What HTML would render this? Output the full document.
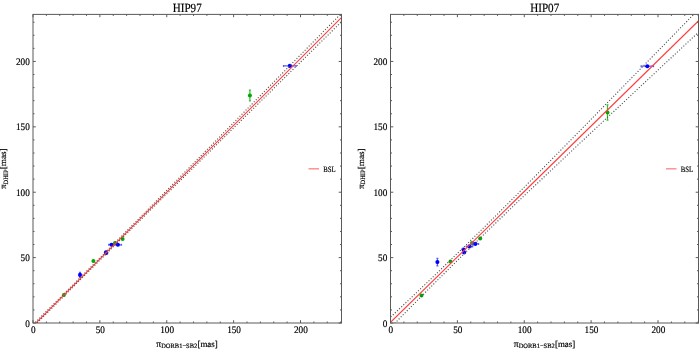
<!DOCTYPE html><html><head><meta charset="utf-8"><style>html,body{margin:0;padding:0;background:#fff;}svg{display:block;will-change:transform;text-rendering:geometricPrecision}text{font-family:"Liberation Serif",serif;fill:#000;stroke:#000;stroke-width:0.18px}</style></head><body>
<svg width="699" height="349" viewBox="0 0 699 349">
<rect width="699" height="349" fill="#fff"/>
<defs><clipPath id="c0"><rect x="33.00" y="14.40" width="308.50" height="308.60"/></clipPath></defs>
<g clip-path="url(#c0)">
<circle cx="63.90" cy="295.10" r="2.0" fill="#00aa00"/>
<path d="M80.00 272.40V277.40M79.00 272.40H81.00M79.00 277.40H81.00" stroke="#5c5cff" stroke-width="1.2" fill="none"/>
<circle cx="80.00" cy="274.90" r="2.05" fill="#0000ff"/>
<circle cx="93.40" cy="261.00" r="2.0" fill="#00aa00"/>
<circle cx="106.00" cy="252.20" r="2.05" fill="#0000ff"/>
<circle cx="106.30" cy="252.90" r="2.05" fill="#0000ff"/>
<path d="M108.70 244.70H114.30M108.70 243.70V245.70M114.30 243.70V245.70" stroke="#5c5cff" stroke-width="1.2" fill="none"/>
<circle cx="111.50" cy="244.70" r="2.05" fill="#0000ff"/>
<circle cx="115.00" cy="243.00" r="2.0" fill="#00aa00"/>
<path d="M114.30 244.80H121.50M114.30 243.80V245.80M121.50 243.80V245.80" stroke="#5c5cff" stroke-width="1.2" fill="none"/>
<circle cx="117.90" cy="244.80" r="2.05" fill="#0000ff"/>
<circle cx="122.60" cy="238.90" r="2.0" fill="#00aa00"/>
<path d="M249.90 90.20V100.80M248.90 90.20H250.90M248.90 100.80H250.90" stroke="#30c030" stroke-width="1.2" fill="none"/>
<circle cx="249.90" cy="95.50" r="2.0" fill="#00aa00"/>
<path d="M283.50 65.90H296.10M283.50 64.90V66.90M296.10 64.90V66.90" stroke="#5c5cff" stroke-width="1.2" fill="none"/>
<circle cx="289.80" cy="65.90" r="2.05" fill="#0000ff"/>
<polyline points="29.00,328.52 33.00,324.55 37.00,320.59 41.00,316.63 45.00,312.66 49.00,308.69 53.00,304.72 57.00,300.74 61.00,296.76 65.00,292.78 69.00,288.79 73.00,284.81 77.00,280.81 81.00,276.82 85.00,272.82 89.00,268.81 93.00,264.81 97.00,260.80 101.00,256.78 105.00,252.76 109.00,248.74 113.00,244.72 117.00,240.69 121.00,236.67 125.00,232.63 129.00,228.60 133.00,224.57 137.00,220.53 141.00,216.49 145.00,212.45 149.00,208.41 153.00,204.36 157.00,200.32 161.00,196.27 165.00,192.22 169.00,188.18 173.00,184.13 177.00,180.08 181.00,176.03 185.00,171.98 189.00,167.92 193.00,163.87 197.00,159.82 201.00,155.76 205.00,151.71 209.00,147.66 213.00,143.60 217.00,139.55 221.00,135.49 225.00,131.43 229.00,127.38 233.00,123.32 237.00,119.27 241.00,115.21 245.00,111.15 249.00,107.09 253.00,103.04 257.00,98.98 261.00,94.92 265.00,90.86 269.00,86.80 273.00,82.75 277.00,78.69 281.00,74.63 285.00,70.57 289.00,66.51 293.00,62.45 297.00,58.39 301.00,54.33 305.00,50.27 309.00,46.21 313.00,42.15 317.00,38.10 321.00,34.04 325.00,29.98 329.00,25.92 333.00,21.86 337.00,17.80 341.00,13.74 345.00,9.68" stroke="#505050" stroke-width="1.1" fill="none" stroke-dasharray="1.1 1.8"/>
<polyline points="29.00,331.28 33.00,327.24 37.00,323.21 41.00,319.17 45.00,315.14 49.00,311.12 53.00,307.09 57.00,303.07 61.00,299.05 65.00,295.04 69.00,291.02 73.00,287.01 77.00,283.01 81.00,279.01 85.00,275.01 89.00,271.02 93.00,267.03 97.00,263.04 101.00,259.05 105.00,255.07 109.00,251.10 113.00,247.12 117.00,243.15 121.00,239.18 125.00,235.22 129.00,231.25 133.00,227.29 137.00,223.33 141.00,219.37 145.00,215.41 149.00,211.46 153.00,207.51 157.00,203.55 161.00,199.60 165.00,195.65 169.00,191.70 173.00,187.75 177.00,183.81 181.00,179.86 185.00,175.91 189.00,171.97 193.00,168.02 197.00,164.08 201.00,160.13 205.00,156.19 209.00,152.25 213.00,148.30 217.00,144.36 221.00,140.42 225.00,136.48 229.00,132.53 233.00,128.59 237.00,124.65 241.00,120.71 245.00,116.77 249.00,112.83 253.00,108.89 257.00,104.95 261.00,101.01 265.00,97.07 269.00,93.13 273.00,89.19 277.00,85.25 281.00,81.32 285.00,77.38 289.00,73.44 293.00,69.50 297.00,65.56 301.00,61.62 305.00,57.69 309.00,53.75 313.00,49.81 317.00,45.87 321.00,41.93 325.00,38.00 329.00,34.06 333.00,30.12 337.00,26.18 341.00,22.25 345.00,18.31" stroke="#505050" stroke-width="1.1" fill="none" stroke-dasharray="1.1 1.8"/>
<line x1="31.00" y1="327.90" x2="343.50" y2="15.49" stroke="#ff3c3c" stroke-width="1.1" fill="none"/>
</g>
<rect x="33.00" y="14.40" width="308.50" height="308.60" fill="none" stroke="#5a5a5a" stroke-width="1"/>
<path d="M33.00 323.00v-2.8M33.00 14.40v2.8M46.38 323.00v-1.5M46.38 14.40v1.5M59.75 323.00v-1.5M59.75 14.40v1.5M73.12 323.00v-1.5M73.12 14.40v1.5M86.50 323.00v-1.5M86.50 14.40v1.5M99.88 323.00v-2.8M99.88 14.40v2.8M113.25 323.00v-1.5M113.25 14.40v1.5M126.62 323.00v-1.5M126.62 14.40v1.5M140.00 323.00v-1.5M140.00 14.40v1.5M153.38 323.00v-1.5M153.38 14.40v1.5M166.75 323.00v-2.8M166.75 14.40v2.8M180.12 323.00v-1.5M180.12 14.40v1.5M193.50 323.00v-1.5M193.50 14.40v1.5M206.88 323.00v-1.5M206.88 14.40v1.5M220.25 323.00v-1.5M220.25 14.40v1.5M233.62 323.00v-2.8M233.62 14.40v2.8M247.00 323.00v-1.5M247.00 14.40v1.5M260.38 323.00v-1.5M260.38 14.40v1.5M273.75 323.00v-1.5M273.75 14.40v1.5M287.12 323.00v-1.5M287.12 14.40v1.5M300.50 323.00v-2.8M300.50 14.40v2.8M313.88 323.00v-1.5M313.88 14.40v1.5M327.25 323.00v-1.5M327.25 14.40v1.5M340.62 323.00v-1.5M340.62 14.40v1.5M33.00 323.00h2.8M341.50 323.00h-2.8M33.00 309.92h1.5M341.50 309.92h-1.5M33.00 296.84h1.5M341.50 296.84h-1.5M33.00 283.77h1.5M341.50 283.77h-1.5M33.00 270.69h1.5M341.50 270.69h-1.5M33.00 257.61h2.8M341.50 257.61h-2.8M33.00 244.53h1.5M341.50 244.53h-1.5M33.00 231.45h1.5M341.50 231.45h-1.5M33.00 218.38h1.5M341.50 218.38h-1.5M33.00 205.30h1.5M341.50 205.30h-1.5M33.00 192.22h2.8M341.50 192.22h-2.8M33.00 179.14h1.5M341.50 179.14h-1.5M33.00 166.06h1.5M341.50 166.06h-1.5M33.00 152.99h1.5M341.50 152.99h-1.5M33.00 139.91h1.5M341.50 139.91h-1.5M33.00 126.83h2.8M341.50 126.83h-2.8M33.00 113.75h1.5M341.50 113.75h-1.5M33.00 100.67h1.5M341.50 100.67h-1.5M33.00 87.60h1.5M341.50 87.60h-1.5M33.00 74.52h1.5M341.50 74.52h-1.5M33.00 61.44h2.8M341.50 61.44h-2.8M33.00 48.36h1.5M341.50 48.36h-1.5M33.00 35.28h1.5M341.50 35.28h-1.5M33.00 22.21h1.5M341.50 22.21h-1.5" stroke="#5a5a5a" stroke-width="1" fill="none"/>
<text x="33.40" y="332.6" font-size="10" text-anchor="middle" textLength="4.6" lengthAdjust="spacingAndGlyphs">0</text>
<text x="29.80" y="326.50" font-size="10" text-anchor="end" textLength="4.6" lengthAdjust="spacingAndGlyphs">0</text>
<text x="100.28" y="332.6" font-size="10" text-anchor="middle" textLength="9.2" lengthAdjust="spacingAndGlyphs">50</text>
<text x="29.80" y="261.11" font-size="10" text-anchor="end" textLength="9.2" lengthAdjust="spacingAndGlyphs">50</text>
<text x="167.15" y="332.6" font-size="10" text-anchor="middle" textLength="13.8" lengthAdjust="spacingAndGlyphs">100</text>
<text x="29.80" y="195.72" font-size="10" text-anchor="end" textLength="13.8" lengthAdjust="spacingAndGlyphs">100</text>
<text x="234.03" y="332.6" font-size="10" text-anchor="middle" textLength="13.8" lengthAdjust="spacingAndGlyphs">150</text>
<text x="29.80" y="130.33" font-size="10" text-anchor="end" textLength="13.8" lengthAdjust="spacingAndGlyphs">150</text>
<text x="300.90" y="332.6" font-size="10" text-anchor="middle" textLength="13.8" lengthAdjust="spacingAndGlyphs">200</text>
<text x="29.80" y="64.94" font-size="10" text-anchor="end" textLength="13.8" lengthAdjust="spacingAndGlyphs">200</text>
<text x="187.25" y="12.0" font-size="12.5" stroke="#000" stroke-width="0.25" text-anchor="middle" textLength="28.9" lengthAdjust="spacingAndGlyphs">HIP97</text>
<text x="156.20" y="347.2" font-size="9.6">π</text>
<text x="161.20" y="348.3" font-size="6.6" textLength="36.0" lengthAdjust="spacingAndGlyphs">DORB1−SB2</text>
<text x="197.50" y="347.3" font-size="8.9" textLength="20.2" lengthAdjust="spacingAndGlyphs">[mas]</text>
<g transform="translate(6.40,188.7) rotate(-90)"><text x="-0.2" y="0" font-size="9">π</text><text x="4.2" y="1.4" font-size="6.5" textLength="15.0" lengthAdjust="spacingAndGlyphs">DHIP</text><text x="19.4" y="0" font-size="8.8" textLength="21.0" lengthAdjust="spacingAndGlyphs">[mas]</text></g>
<line x1="308.50" y1="168.8" x2="319.00" y2="168.8" stroke="#ff8a8a" stroke-width="1.4"/>
<text x="323.20" y="171.9" font-size="8.2" textLength="12.4" lengthAdjust="spacingAndGlyphs">BSL</text>
<defs><clipPath id="c1"><rect x="390.50" y="14.40" width="308.00" height="308.60"/></clipPath></defs>
<g clip-path="url(#c1)">
<circle cx="421.50" cy="295.60" r="2.0" fill="#00aa00"/>
<path d="M437.40 258.40V265.80M436.40 258.40H438.40M436.40 265.80H438.40" stroke="#5c5cff" stroke-width="1.2" fill="none"/>
<circle cx="437.40" cy="262.10" r="2.05" fill="#0000ff"/>
<circle cx="450.50" cy="261.50" r="2.0" fill="#00aa00"/>
<circle cx="463.50" cy="249.60" r="2.05" fill="#0000ff"/>
<circle cx="464.10" cy="252.50" r="2.05" fill="#0000ff"/>
<path d="M466.30 246.40H472.70M466.30 245.40V247.40M472.70 245.40V247.40" stroke="#5c5cff" stroke-width="1.2" fill="none"/>
<circle cx="469.50" cy="246.40" r="2.05" fill="#0000ff"/>
<circle cx="472.00" cy="242.90" r="2.0" fill="#00aa00"/>
<path d="M472.00 243.90H478.60M472.00 242.90V244.90M478.60 242.90V244.90" stroke="#5c5cff" stroke-width="1.2" fill="none"/>
<circle cx="475.30" cy="243.90" r="2.05" fill="#0000ff"/>
<circle cx="480.20" cy="238.50" r="2.0" fill="#00aa00"/>
<path d="M607.50 104.80V120.20M606.50 104.80H608.50M606.50 120.20H608.50" stroke="#30c030" stroke-width="1.2" fill="none"/>
<circle cx="607.50" cy="112.50" r="2.0" fill="#00aa00"/>
<path d="M641.10 66.20H653.50M641.10 65.20V67.20M653.50 65.20V67.20" stroke="#5c5cff" stroke-width="1.2" fill="none"/>
<circle cx="647.30" cy="66.20" r="2.05" fill="#0000ff"/>
<polyline points="386.50,320.95 390.50,317.18 394.50,313.40 398.50,309.63 402.50,305.85 406.50,302.06 410.50,298.27 414.50,294.48 418.50,290.68 422.50,286.87 426.50,283.06 430.50,279.25 434.50,275.42 438.50,271.59 442.50,267.75 446.50,263.91 450.50,260.05 454.50,256.18 458.50,252.31 462.50,248.42 466.50,244.53 470.50,240.62 474.50,236.70 478.50,232.77 482.50,228.84 486.50,224.89 490.50,220.93 494.50,216.96 498.50,212.98 502.50,209.00 506.50,205.00 510.50,201.00 514.50,196.99 518.50,192.97 522.50,188.95 526.50,184.92 530.50,180.88 534.50,176.84 538.50,172.80 542.50,168.75 546.50,164.70 550.50,160.64 554.50,156.58 558.50,152.52 562.50,148.46 566.50,144.39 570.50,140.32 574.50,136.25 578.50,132.17 582.50,128.10 586.50,124.02 590.50,119.94 594.50,115.86 598.50,111.78 602.50,107.69 606.50,103.61 610.50,99.52 614.50,95.44 618.50,91.35 622.50,87.26 626.50,83.17 630.50,79.08 634.50,74.99 638.50,70.90 642.50,66.80 646.50,62.71 650.50,58.62 654.50,54.52 658.50,50.43 662.50,46.33 666.50,42.24 670.50,38.14 674.50,34.04 678.50,29.95 682.50,25.85 686.50,21.75 690.50,17.65 694.50,13.55 698.50,9.46 702.50,5.36" stroke="#505050" stroke-width="1.1" fill="none" stroke-dasharray="1.1 1.8"/>
<polyline points="386.50,331.68 390.50,327.62 394.50,323.56 398.50,319.51 402.50,315.45 406.50,311.41 410.50,307.36 414.50,303.33 418.50,299.29 422.50,295.26 426.50,291.24 430.50,287.23 434.50,283.22 438.50,279.22 442.50,275.23 446.50,271.24 450.50,267.27 454.50,263.30 458.50,259.34 462.50,255.40 466.50,251.46 470.50,247.54 474.50,243.62 478.50,239.72 482.50,235.82 486.50,231.94 490.50,228.07 494.50,224.20 498.50,220.35 502.50,216.50 506.50,212.67 510.50,208.84 514.50,205.02 518.50,201.20 522.50,197.39 526.50,193.59 530.50,189.79 534.50,186.00 538.50,182.21 542.50,178.43 546.50,174.65 550.50,170.87 554.50,167.10 558.50,163.33 562.50,159.56 566.50,155.80 570.50,152.04 574.50,148.28 578.50,144.52 582.50,140.76 586.50,137.01 590.50,133.26 594.50,129.50 598.50,125.75 602.50,122.01 606.50,118.26 610.50,114.51 614.50,110.77 618.50,107.02 622.50,103.28 626.50,99.54 630.50,95.80 634.50,92.06 638.50,88.32 642.50,84.58 646.50,80.84 650.50,77.10 654.50,73.36 658.50,69.62 662.50,65.89 666.50,62.15 670.50,58.42 674.50,54.68 678.50,50.95 682.50,47.21 686.50,43.48 690.50,39.74 694.50,36.01 698.50,32.28 702.50,28.54" stroke="#505050" stroke-width="1.1" fill="none" stroke-dasharray="1.1 1.8"/>
<line x1="388.50" y1="324.36" x2="700.50" y2="18.91" stroke="#ff3c3c" stroke-width="1.1" fill="none"/>
</g>
<rect x="390.50" y="14.40" width="308.00" height="308.60" fill="none" stroke="#5a5a5a" stroke-width="1"/>
<path d="M390.50 323.00v-2.8M390.50 14.40v2.8M403.88 323.00v-1.5M403.88 14.40v1.5M417.25 323.00v-1.5M417.25 14.40v1.5M430.62 323.00v-1.5M430.62 14.40v1.5M444.00 323.00v-1.5M444.00 14.40v1.5M457.38 323.00v-2.8M457.38 14.40v2.8M470.75 323.00v-1.5M470.75 14.40v1.5M484.12 323.00v-1.5M484.12 14.40v1.5M497.50 323.00v-1.5M497.50 14.40v1.5M510.88 323.00v-1.5M510.88 14.40v1.5M524.25 323.00v-2.8M524.25 14.40v2.8M537.62 323.00v-1.5M537.62 14.40v1.5M551.00 323.00v-1.5M551.00 14.40v1.5M564.38 323.00v-1.5M564.38 14.40v1.5M577.75 323.00v-1.5M577.75 14.40v1.5M591.12 323.00v-2.8M591.12 14.40v2.8M604.50 323.00v-1.5M604.50 14.40v1.5M617.88 323.00v-1.5M617.88 14.40v1.5M631.25 323.00v-1.5M631.25 14.40v1.5M644.62 323.00v-1.5M644.62 14.40v1.5M658.00 323.00v-2.8M658.00 14.40v2.8M671.38 323.00v-1.5M671.38 14.40v1.5M684.75 323.00v-1.5M684.75 14.40v1.5M698.12 323.00v-1.5M698.12 14.40v1.5M390.50 323.00h2.8M698.50 323.00h-2.8M390.50 309.92h1.5M698.50 309.92h-1.5M390.50 296.84h1.5M698.50 296.84h-1.5M390.50 283.77h1.5M698.50 283.77h-1.5M390.50 270.69h1.5M698.50 270.69h-1.5M390.50 257.61h2.8M698.50 257.61h-2.8M390.50 244.53h1.5M698.50 244.53h-1.5M390.50 231.45h1.5M698.50 231.45h-1.5M390.50 218.38h1.5M698.50 218.38h-1.5M390.50 205.30h1.5M698.50 205.30h-1.5M390.50 192.22h2.8M698.50 192.22h-2.8M390.50 179.14h1.5M698.50 179.14h-1.5M390.50 166.06h1.5M698.50 166.06h-1.5M390.50 152.99h1.5M698.50 152.99h-1.5M390.50 139.91h1.5M698.50 139.91h-1.5M390.50 126.83h2.8M698.50 126.83h-2.8M390.50 113.75h1.5M698.50 113.75h-1.5M390.50 100.67h1.5M698.50 100.67h-1.5M390.50 87.60h1.5M698.50 87.60h-1.5M390.50 74.52h1.5M698.50 74.52h-1.5M390.50 61.44h2.8M698.50 61.44h-2.8M390.50 48.36h1.5M698.50 48.36h-1.5M390.50 35.28h1.5M698.50 35.28h-1.5M390.50 22.21h1.5M698.50 22.21h-1.5" stroke="#5a5a5a" stroke-width="1" fill="none"/>
<text x="390.90" y="332.6" font-size="10" text-anchor="middle" textLength="4.6" lengthAdjust="spacingAndGlyphs">0</text>
<text x="387.30" y="326.50" font-size="10" text-anchor="end" textLength="4.6" lengthAdjust="spacingAndGlyphs">0</text>
<text x="457.77" y="332.6" font-size="10" text-anchor="middle" textLength="9.2" lengthAdjust="spacingAndGlyphs">50</text>
<text x="387.30" y="261.11" font-size="10" text-anchor="end" textLength="9.2" lengthAdjust="spacingAndGlyphs">50</text>
<text x="524.65" y="332.6" font-size="10" text-anchor="middle" textLength="13.8" lengthAdjust="spacingAndGlyphs">100</text>
<text x="387.30" y="195.72" font-size="10" text-anchor="end" textLength="13.8" lengthAdjust="spacingAndGlyphs">100</text>
<text x="591.52" y="332.6" font-size="10" text-anchor="middle" textLength="13.8" lengthAdjust="spacingAndGlyphs">150</text>
<text x="387.30" y="130.33" font-size="10" text-anchor="end" textLength="13.8" lengthAdjust="spacingAndGlyphs">150</text>
<text x="658.40" y="332.6" font-size="10" text-anchor="middle" textLength="13.8" lengthAdjust="spacingAndGlyphs">200</text>
<text x="387.30" y="64.94" font-size="10" text-anchor="end" textLength="13.8" lengthAdjust="spacingAndGlyphs">200</text>
<text x="544.75" y="12.0" font-size="12.5" stroke="#000" stroke-width="0.25" text-anchor="middle" textLength="28.9" lengthAdjust="spacingAndGlyphs">HIP07</text>
<text x="513.70" y="347.2" font-size="9.6">π</text>
<text x="518.70" y="348.3" font-size="6.6" textLength="36.0" lengthAdjust="spacingAndGlyphs">DORB1−SB2</text>
<text x="555.00" y="347.3" font-size="8.9" textLength="20.2" lengthAdjust="spacingAndGlyphs">[mas]</text>
<g transform="translate(363.90,188.7) rotate(-90)"><text x="-0.2" y="0" font-size="9">π</text><text x="4.2" y="1.4" font-size="6.5" textLength="15.0" lengthAdjust="spacingAndGlyphs">DHIP</text><text x="19.4" y="0" font-size="8.8" textLength="21.0" lengthAdjust="spacingAndGlyphs">[mas]</text></g>
<line x1="666.00" y1="168.8" x2="676.50" y2="168.8" stroke="#ff8a8a" stroke-width="1.4"/>
<text x="680.70" y="171.9" font-size="8.2" textLength="12.4" lengthAdjust="spacingAndGlyphs">BSL</text>
</svg></body></html>
